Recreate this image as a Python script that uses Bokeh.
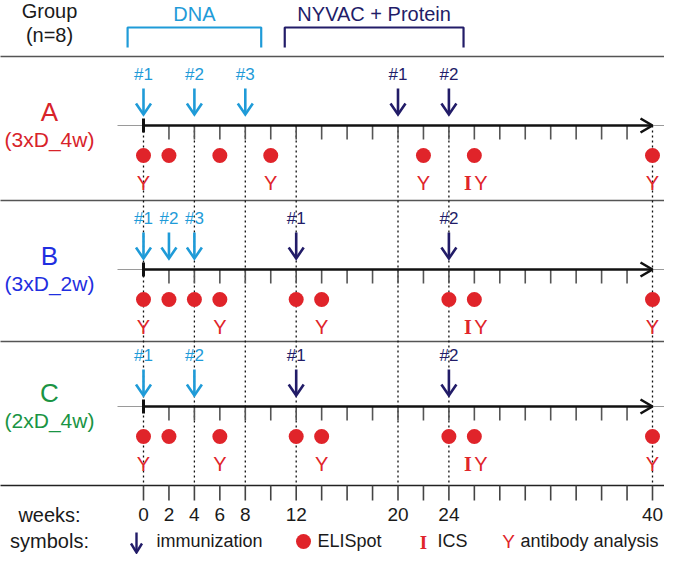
from bokeh.plotting import figure
from bokeh.models import ColumnDataSource, Range1d
from bokeh.core.properties import value
from bokeh.embed import file_html
from bokeh.resources import INLINE

# ---------------- data ----------------
groups = ["A", "B", "C"]
group_regimens = ["(3xD_4w)", "(3xD_2w)", "(2xD_4w)"]
group_colors = ["#d8232a", "#1f2fe0", "#1a9444"]

dna_A = [0, 4, 8]
dna_B = [0, 2, 4]
dna_C = [0, 4]
nyvac_A = [20, 24]
nyvac_B = [12, 24]
nyvac_C = [12, 24]
elispot_A = [0, 2, 6, 10, 22, 26, 40]
elispot_B = [0, 2, 4, 6, 12, 14, 24, 26, 40]
elispot_C = [0, 2, 6, 12, 14, 24, 26, 40]
antibody_A = [0, 10, 22, 26, 40]
antibody_B = [0, 6, 14, 26, 40]
antibody_C = [0, 6, 14, 26, 40]
ics_A = [26]
ics_B = [26]
ics_C = [26]

milestone_weeks = [0, 4, 8, 12, 20, 24, 40]
week_ticks = list(range(0, 41, 2))
week_labels = [0, 2, 4, 6, 8, 12, 20, 24, 40]
timeline_end = 40
phase_names = ["DNA", "NYVAC + Protein"]
phase_start = [-1.25, 11.1]
phase_end = [9.25, 25.15]

# ---------------- layout / style ----------------
PXW = 12.725      # px per week
X0 = 143          # px of week 0


def wx(px):
    return (px - X0) / PXW


def dw(px):
    return px / PXW


LIGHT = "#1f9bd8"
NAVY = "#221c68"
RED = "#e0242a"
INK = "#1a1a1a"
FONT = value("Liberation Sans")
SERIF = value("Liberation Serif")

row_axis_y = [125, 269, 406]
sep_y = [56, 200, 341]
bottom_y = 485
weeks_row_y = 514
legend_y = 540

dna_rows = [dna_A, dna_B, dna_C]
nyvac_rows = [nyvac_A, nyvac_B, nyvac_C]
eli_rows = [elispot_A, elispot_B, elispot_C]
ab_rows = [antibody_A, antibody_B, antibody_C]
ics_rows = [ics_A, ics_B, ics_C]

p = figure(width=664, height=554, x_range=Range1d(wx(0), wx(664)),
           y_range=Range1d(554, 0), x_axis_type=None, y_axis_type=None,
           output_backend="svg", toolbar_location=None, min_border=0)
p.grid.visible = False
p.outline_line_color = None
p.background_fill_color = "white"

# separators
p.segment(x0=wx(-10), x1=wx(700), y0=sep_y, y1=sep_y, line_color="#555555", line_width=1.6)
p.segment(x0=[wx(-10)], x1=[wx(700)], y0=[bottom_y], y1=[bottom_y], line_color="#222222", line_width=1.6)

# milestone dotted lines
p.segment(x0=milestone_weeks, x1=milestone_weeks, y0=row_axis_y[0], y1=bottom_y,
          line_color="#111111", line_width=1.3, line_dash="2 3")


def arrows(weeks, ytop, ytip, color, hw=7.5, hh=11, lw=2.6):
    p.segment(x0=weeks, x1=weeks, y0=[ytop] * len(weeks), y1=[ytip - 1] * len(weeks),
              line_color=color, line_width=lw)
    xs = [[w - dw(hw), w, w + dw(hw)] for w in weeks]
    ys = [[ytip - hh, ytip, ytip - hh] for _ in weeks]
    p.multi_line(xs=xs, ys=ys, line_color=color, line_width=lw, line_join="miter")


def texts(xs, ys, labels, color, size, font=FONT, align="center", style="normal"):
    src = ColumnDataSource(dict(x=xs, y=ys, t=labels))
    p.text(x="x", y="y", text="t", source=src, text_color=color, text_font=font,
           text_font_size=size, text_align=align, text_baseline="middle",
           text_font_style=style)


for i, g in enumerate(groups):
    ay = row_axis_y[i]
    # thin gray base line
    p.segment(x0=[wx(117)], x1=[wx(700)], y0=[ay], y1=[ay], line_color="#9a9a9a", line_width=1)
    # ticks
    tks = [w for w in week_ticks if 0 < w < timeline_end]
    p.segment(x0=tks, x1=tks, y0=[ay] * len(tks), y1=[ay + 14] * len(tks),
              line_color="#555555", line_width=1.6)
    # main timeline
    p.segment(x0=[0], x1=[timeline_end - dw(1.5)], y0=[ay], y1=[ay], line_color="#111111", line_width=2.6)
    p.segment(x0=[0], x1=[0], y0=[ay - 7], y1=[ay + 7], line_color="#111111", line_width=3)
    p.multi_line(xs=[[timeline_end - dw(12), timeline_end, timeline_end - dw(12)]],
                 ys=[[ay - 7, ay, ay + 7]], line_color="#111111", line_width=2.6)
    # immunization arrows
    arrows(dna_rows[i], ay - 37, ay - 11, LIGHT)
    arrows(nyvac_rows[i], ay - 37, ay - 11, NAVY)
    texts(dna_rows[i], [ay - 51] * len(dna_rows[i]),
          ["#%d" % (k + 1) for k in range(len(dna_rows[i]))], LIGHT, "17px")
    texts(nyvac_rows[i], [ay - 51] * len(nyvac_rows[i]),
          ["#%d" % (k + 1) for k in range(len(nyvac_rows[i]))], NAVY, "17px")
    # ELISpot dots
    e = eli_rows[i]
    p.scatter(x=e, y=[ay + 30] * len(e), size=15, fill_color=RED, line_color=None)
    # antibody Y and ICS I
    ab = ab_rows[i]
    ab_x = [w + (dw(6.5) if w in ics_rows[i] else 0) for w in ab]
    texts(ab_x, [ay + 57] * len(ab), ["Y"] * len(ab), RED, "20px")
    ic = ics_rows[i]
    texts([w - dw(6.5) for w in ic], [ay + 57] * len(ic), ["I"] * len(ic), RED, "20px",
          font=SERIF, style="bold")
    # group labels
    texts([wx(49)], [ay - 14], [g], group_colors[i], "26px")
    texts([wx(49)], [ay + 14], [group_regimens[i]], group_colors[i], "21px")

# header
texts([wx(49)], [10], ["Group"], INK, "20px")
texts([wx(49)], [34], ["(n=8)"], INK, "20px")
phase_colors = [LIGHT, NAVY]
for k in range(2):
    a, b = phase_start[k], phase_end[k]
    p.line(x=[a, a, b, b], y=[47, 27, 27, 47], line_color=phase_colors[k], line_width=2.2)
    texts([(a + b) / 2], [13], [phase_names[k]], phase_colors[k], "20px")

# bottom week axis
p.segment(x0=week_ticks, x1=week_ticks, y0=[bottom_y] * len(week_ticks),
          y1=[bottom_y + 15] * len(week_ticks), line_color="#444444", line_width=1.6)
texts(week_labels, [weeks_row_y] * len(week_labels), [str(w) for w in week_labels], INK, "19px")
texts([wx(49)], [weeks_row_y], ["weeks:"], INK, "20px")

# symbols legend
ly = legend_y
texts([wx(49)], [ly], ["symbols:"], INK, "20px")
arrows([wx(136)], ly - 8, ly + 12, NAVY, hw=5.5, hh=9, lw=2.4)
texts([wx(156)], [ly], ["immunization"], INK, "18px", align="left")
p.scatter(x=[wx(303)], y=[ly + 1], size=15, fill_color=RED, line_color=None)
texts([wx(317)], [ly], ["ELISpot"], INK, "18px", align="left")
texts([wx(423)], [ly + 2], ["I"], RED, "19px", font=SERIF, style="bold")
texts([wx(437)], [ly], ["ICS"], INK, "18px", align="left")
texts([wx(508)], [ly + 1], ["Y"], RED, "19px")
texts([wx(520)], [ly], ["antibody analysis"], INK, "18px", align="left")

open("out.html", "w").write(file_html(p, INLINE))
